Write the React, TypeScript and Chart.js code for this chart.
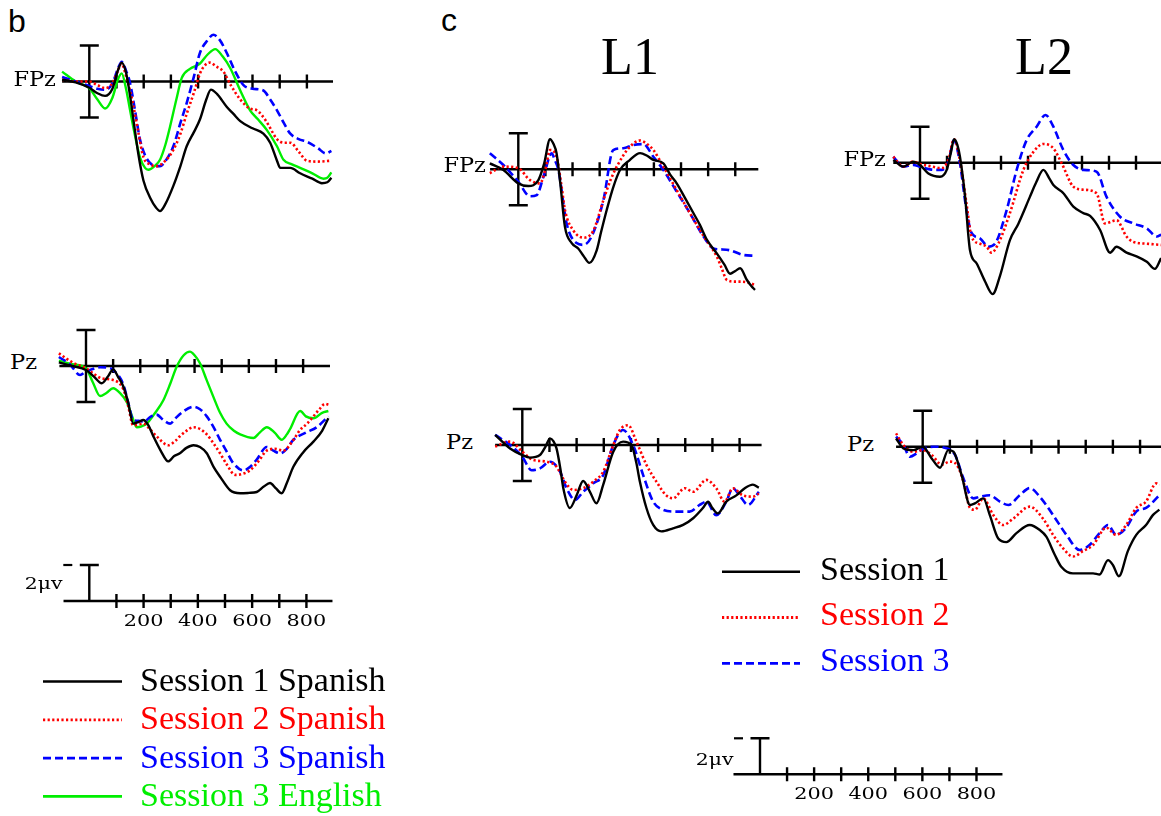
import React, { useEffect, useRef } from "react";
import { Chart, registerables } from "chart.js";
Chart.register(...registerables);

type Pt = [number, number];

// ---------------- data: [time ms, amplitude µV] (negative plotted up) ----------------
// Panel b, FPz
const bFpzS1: Pt[] = [[-100,-0.1],[-50,0.05],[0,0.35],[30,0.65],[58,0.8],[85,0.4],[105,-0.6],[119,-1.05],[135,-0.5],[150,0.8],[162,2.1],[180,4.0],[199,5.5],[225,6.5],[245,7.0],[260,7.2],[280,6.8],[309,5.8],[335,4.7],[358,3.6],[385,2.8],[407,2.1],[430,1.0],[447,0.45],[470,0.7],[505,1.4],[530,1.8],[555,2.2],[600,2.6],[640,2.9],[665,3.4],[690,4.4],[702,4.8],[739,4.8],[775,5.1],[820,5.4],[855,5.65],[875,5.6],[890,5.35]];
const bFpzS2: Pt[] = [[-100,-0.1],[-50,0.0],[0,0.0],[30,0.2],[58,0.37],[85,0.1],[105,-0.6],[119,-1.0],[135,-0.3],[160,1.2],[180,2.8],[199,4.2],[222,4.6],[248,4.7],[280,4.4],[309,3.8],[335,2.9],[358,1.8],[385,0.6],[407,-0.45],[425,-0.9],[444,-1.05],[465,-0.85],[493,-0.55],[520,0.2],[555,1.0],[590,1.5],[616,1.6],[650,2.2],[690,3.2],[715,3.4],[739,3.4],[770,3.9],[800,4.4],[840,4.45],[890,4.4]];
const bFpzS3: Pt[] = [[-100,-0.25],[-50,0.0],[0,0.25],[30,0.4],[58,0.46],[85,0.1],[105,-0.7],[119,-1.1],[135,-0.6],[150,0.1],[168,1.6],[186,3.2],[205,4.1],[229,4.6],[260,4.7],[285,4.3],[309,3.6],[335,2.3],[358,1.2],[385,-0.3],[407,-1.6],[435,-2.3],[456,-2.6],[480,-2.3],[505,-1.6],[535,-0.6],[567,0.2],[600,0.4],[640,0.5],[665,1.0],[690,1.6],[715,2.3],[739,2.9],[770,3.2],[800,3.35],[840,3.7],[870,4.0],[890,3.85]];
const bFpzEn: Pt[] = [[-100,-0.55],[-50,0.0],[0,0.37],[30,1.0],[58,1.5],[85,0.9],[105,-0.1],[119,-0.45],[135,0.4],[150,1.6],[168,3.0],[186,4.2],[205,4.8],[217,4.9],[240,4.7],[260,4.35],[280,3.5],[297,2.5],[320,1.0],[340,-0.2],[370,-0.7],[407,-1.0],[435,-1.5],[463,-1.8],[490,-1.4],[518,-0.75],[555,0.5],[591,1.6],[620,2.1],[653,2.7],[690,3.6],[714,4.35],[745,4.6],[775,4.8],[820,5.1],[861,5.4],[875,5.35],[890,5.05]];

// Panel b, Pz
const bPzS1: Pt[] = [[-100,-0.2],[-50,0.0],[0,0.22],[30,0.6],[58,0.96],[80,0.6],[100,0.19],[118,0.6],[138,1.15],[155,2.0],[174,3.2],[195,3.1],[211,3.0],[230,3.3],[248,3.9],[275,4.7],[303,5.3],[325,5.0],[346,4.85],[370,4.55],[396,4.4],[420,4.5],[445,4.85],[470,5.6],[494,6.15],[531,6.9],[568,7.07],[600,7.05],[629,7.0],[655,6.7],[678,6.5],[700,6.8],[721,7.07],[740,6.5],[764,5.6],[800,4.8],[838,4.2],[870,3.6],[893,2.9]];
const bPzS2: Pt[] = [[-100,-0.7],[-50,-0.2],[0,0.13],[30,0.45],[58,0.69],[100,0.78],[138,1.3],[155,2.2],[174,3.3],[195,3.25],[211,3.2],[235,3.5],[260,3.9],[303,4.4],[330,4.15],[346,3.9],[370,3.6],[396,3.4],[420,3.5],[445,3.8],[470,4.3],[494,4.85],[520,5.5],[549,6.05],[575,6.0],[604,5.8],[635,5.3],[666,4.7],[695,4.6],[727,4.7],[760,4.2],[789,3.55],[815,3.2],[838,2.8],[860,2.4],[881,2.1],[893,2.15]];
const bPzS3: Pt[] = [[-100,-0.5],[-60,-0.1],[-22,0.5],[0,0.3],[15,0.22],[52,0.07],[80,0.1],[100,0.22],[138,1.05],[155,2.0],[174,3.0],[195,3.05],[211,3.1],[240,2.8],[260,2.7],[285,3.0],[310,3.2],[330,2.9],[352,2.6],[396,2.26],[420,2.4],[445,2.8],[470,3.4],[494,4.1],[520,4.8],[543,5.4],[580,5.8],[605,5.6],[629,5.2],[666,4.5],[690,4.7],[715,4.85],[740,4.6],[764,4.1],[810,3.7],[850,3.4],[893,2.8]];
const bPzEn: Pt[] = [[-100,-0.3],[-50,-0.1],[0,0.13],[25,0.9],[52,1.67],[75,1.5],[100,1.24],[125,1.5],[150,2.0],[170,2.8],[187,3.4],[205,3.35],[224,3.2],[255,2.6],[285,1.9],[310,1.0],[334,0.04],[360,-0.6],[383,-0.8],[400,-0.6],[420,-0.15],[445,0.8],[469,1.7],[494,2.6],[518,3.2],[545,3.6],[568,3.8],[617,4.0],[640,3.7],[666,3.4],[695,3.7],[721,4.1],[740,3.8],[752,3.5],[789,2.5],[810,2.8],[838,2.9],[870,2.6],[893,2.5]];

// Panel c, L1 FPz
const l1FpzS1: Pt[] = [[-105,-0.33],[-55,0.04],[0,0.78],[37,0.93],[74,0.6],[95,-0.3],[117,-1.67],[130,-1.4],[141,-0.9],[155,0.8],[172,3.2],[197,4.1],[221,4.4],[240,4.8],[262,5.2],[289,4.5],[305,3.5],[326,2.26],[350,1.0],[375,0.04],[410,-0.5],[449,-0.9],[475,-0.75],[498,-0.52],[535,-0.33],[560,0.3],[584,0.78],[615,1.6],[646,2.44],[670,3.1],[695,3.9],[732,4.67],[760,5.3],[781,5.8],[800,5.65],[818,5.5],[843,6.15],[860,6.5],[873,6.7]];
const l1FpzS2: Pt[] = [[-105,0.22],[-55,-0.15],[0,-0.06],[43,0.6],[80,0.78],[100,0.0],[117,-1.07],[141,-0.7],[160,1.0],[172,2.26],[203,3.4],[240,3.8],[277,3.4],[314,1.7],[340,0.6],[363,-0.15],[412,-1.26],[449,-1.6],[475,-1.4],[498,-1.07],[535,-0.15],[584,1.15],[633,2.44],[683,3.7],[732,4.85],[750,5.5],[769,6.15],[800,6.24],[818,6.24],[850,6.3],[873,6.43]];
const l1FpzS3: Pt[] = [[-105,-0.89],[-55,-0.24],[0,0.69],[43,1.5],[68,1.43],[95,0.3],[123,-0.89],[135,-0.5],[148,0.04],[178,3.0],[215,4.1],[240,4.2],[270,3.74],[314,1.7],[350,-1.07],[387,-1.17],[424,-1.35],[461,-1.4],[498,-0.7],[535,0.04],[584,1.24],[633,2.44],[683,3.74],[720,4.4],[750,4.45],[781,4.5],[830,4.76],[873,4.8]];

// Panel c, L2 FPz
const l2FpzS1: Pt[] = [[-99,-0.15],[-62,0.22],[-25,-0.06],[0,0.13],[31,0.6],[74,0.78],[99,0.4],[115,-0.6],[126,-1.3],[138,-1.0],[148,-0.33],[167,1.9],[185,4.85],[210,5.6],[241,6.6],[269,7.3],[296,6.3],[333,4.3],[364,3.4],[407,1.9],[430,1.1],[457,0.4],[480,0.9],[494,1.24],[531,1.7],[568,2.44],[605,2.8],[630,2.96],[667,3.74],[704,5.0],[728,4.67],[765,5.0],[802,5.2],[840,5.5],[870,5.9],[893,5.3]];
const l2FpzS2: Pt[] = [[-99,-0.33],[-62,0.22],[-25,-0.06],[0,0.07],[37,0.19],[80,0.3],[105,-0.15],[126,-1.3],[150,0.04],[172,2.26],[191,4.1],[222,4.5],[247,4.67],[265,5.0],[290,4.5],[333,2.8],[383,0.4],[420,-0.6],[457,-1.04],[494,-0.8],[525,0.04],[568,1.33],[605,1.5],[654,1.7],[685,3.37],[728,3.2],[765,4.1],[790,4.4],[840,4.5],[893,4.57]];
const l2FpzS3: Pt[] = [[-99,-0.33],[-62,0.22],[-25,0.13],[0,0.22],[37,0.37],[80,0.4],[105,-0.06],[126,-1.26],[148,0.04],[172,2.63],[191,3.9],[222,4.2],[253,4.67],[278,4.5],[321,2.63],[358,0.4],[395,-1.26],[432,-2.0],[465,-2.65],[494,-2.0],[531,-0.7],[568,0.13],[605,0.4],[654,0.5],[691,1.9],[741,3.0],[790,3.37],[840,3.65],[877,4.1],[893,4.0]];

// Panel c, L1 Pz
const l1PzS1: Pt[] = [[-100,-0.56],[-45,0.19],[0,0.56],[28,0.7],[65,0.56],[85,0.1],[102,-0.37],[115,-0.2],[126,0.19],[140,1.3],[151,2.4],[175,3.5],[200,2.8],[224,2.0],[249,2.6],[273,3.24],[298,2.2],[335,0.37],[371,-0.19],[402,0.0],[420,1.0],[433,2.04],[457,3.5],[482,4.44],[512,4.8],[555,4.63],[592,4.44],[629,4.07],[665,3.5],[684,3.15],[700,3.5],[720,3.8],[751,3.15],[788,2.8],[819,2.4],[849,2.2],[871,2.37]];
const l1PzS2: Pt[] = [[-100,0.09],[-45,-0.19],[0,0.37],[40,0.83],[90,0.93],[126,1.2],[157,2.04],[188,2.5],[224,2.4],[261,2.04],[298,1.48],[335,0.0],[359,-0.83],[390,-1.1],[420,-0.19],[457,1.1],[494,2.04],[530,2.8],[555,2.96],[598,2.4],[629,2.6],[678,1.94],[714,2.4],[745,3.15],[775,2.4],[812,2.8],[849,2.87],[871,2.7]];
const l1PzS3: Pt[] = [[-100,-0.56],[-45,0.0],[0,0.65],[34,1.4],[65,1.3],[102,0.93],[139,1.48],[163,2.4],[194,3.05],[224,2.6],[261,2.13],[298,1.67],[335,0.0],[371,-0.83],[408,0.0],[445,1.67],[482,3.15],[518,3.6],[567,3.7],[616,3.7],[653,3.33],[678,3.15],[714,3.9],[751,3.15],[775,2.4],[800,2.8],[831,3.33],[871,2.6]];

// Panel c, L2 Pz
const l2PzS1: Pt[] = [[-98,-0.46],[-71,0.09],[-34,0.19],[0,0.0],[33,0.65],[64,1.17],[94,0.19],[113,0.28],[143,1.57],[174,3.24],[192,3.15],[223,2.87],[247,3.8],[278,5.1],[308,5.3],[345,4.8],[394,4.35],[431,4.63],[455,5.0],[486,6.0],[510,6.67],[553,7.04],[590,7.04],[627,7.04],[651,7.1],[682,6.3],[700,6.57],[722,7.2],[755,5.8],[786,4.9],[822,4.35],[847,3.8],[871,3.5]];
const l2PzS2: Pt[] = [[-98,-0.74],[-71,-0.09],[-34,0.28],[0,0.19],[33,0.46],[70,1.0],[100,0.83],[125,1.0],[150,1.94],[174,3.4],[192,3.5],[223,2.87],[260,3.8],[296,4.35],[333,4.0],[394,3.33],[443,4.0],[480,4.9],[517,5.65],[553,6.1],[590,5.8],[627,5.46],[676,4.5],[712,4.9],[749,4.35],[786,3.4],[822,3.05],[859,2.04],[871,2.13]];
const l2PzS3: Pt[] = [[-98,-0.56],[-71,-0.09],[-47,0.56],[-22,0.37],[0,0.13],[39,0.0],[88,0.09],[119,0.46],[150,1.76],[186,2.87],[210,2.78],[247,2.7],[284,3.05],[315,3.24],[357,2.7],[394,2.3],[431,2.78],[480,3.8],[529,4.9],[578,5.74],[614,5.46],[651,4.8],[682,4.35],[712,4.9],[749,4.5],[786,3.6],[822,3.4],[871,2.7]];

// ticks and text
const axisTicks = [100, 200, 300, 400, 500, 600, 700, 800];
const scaleLabels = [200, 400, 600, 800];
const legendB = ["Session 1 Spanish", "Session 2 Spanish", "Session 3 Spanish", "Session 3 English"];
const legendC = ["Session 1", "Session 2", "Session 3"];
const titlesC = ["L1", "L2"];

// ---------------- styles ----------------
const W = 1161;
const H = 816;
const PPU = 18; // px per µV
type StyleKey = "s1" | "s2" | "s3" | "en";
const STYLES: Record<StyleKey, { color: string; width: number; dash: number[] }> = {
  s1: { color: "#000000", width: 2.4, dash: [] },
  s2: { color: "#ff0000", width: 2.6, dash: [2.2, 2.4] },
  s3: { color: "#0000ff", width: 2.6, dash: [8, 4] },
  en: { color: "#00ee00", width: 2.4, dash: [] },
};
const legendBKeys: StyleKey[] = ["s1", "s2", "s3", "en"];
const legendCKeys: StyleKey[] = ["s1", "s2", "s3"];

type PanelCfg = {
  id: string;
  x0: number;
  y0: number;
  ppm: number;
  from: number;
  to: number;
  scale?: boolean;
  series: [StyleKey, Pt[]][];
};

const panels: PanelCfg[] = [
  { id: "bF", x0: 89.3, y0: 81.5, ppm: 0.272, from: -100, to: 896, series: [["s1", bFpzS1], ["s2", bFpzS2], ["s3", bFpzS3], ["en", bFpzEn]] },
  { id: "bP", x0: 86, y0: 366, ppm: 0.2714, from: -98, to: 899, series: [["s1", bPzS1], ["s2", bPzS2], ["s3", bPzS3], ["en", bPzEn]] },
  { id: "l1F", x0: 518.3, y0: 169.3, ppm: 0.2712, from: -104, to: 885, series: [["s1", l1FpzS1], ["s2", l1FpzS2], ["s3", l1FpzS3]] },
  { id: "l1P", x0: 522.3, y0: 445, ppm: 0.2716, from: -100, to: 881, series: [["s1", l1PzS1], ["s2", l1PzS2], ["s3", l1PzS3]] },
  { id: "l2F", x0: 920, y0: 162.7, ppm: 0.27, from: -99, to: 960, series: [["s1", l2FpzS1], ["s2", l2FpzS2], ["s3", l2FpzS3]] },
  { id: "l2P", x0: 922.7, y0: 446.7, ppm: 0.2717, from: -98, to: 960, series: [["s1", l2PzS1], ["s2", l2PzS2], ["s3", l2PzS3]] },
  { id: "bS", x0: 89.3, y0: 601, ppm: 0.2714, from: -95, to: 896, scale: true, series: [] },
  { id: "cS", x0: 760, y0: 774.3, ppm: 0.2706, from: -98, to: 896, scale: true, series: [] },
];

const erpAxes = {
  id: "erpAxes",
  beforeDatasetsDraw(chart: any, _args: any, o: any) {
    const { ctx } = chart;
    const x = chart.scales.x;
    const y = chart.scales.y;
    const yz = y.getPixelForValue(0);
    const xz = x.getPixelForValue(0);
    ctx.save();
    ctx.strokeStyle = "#000";
    ctx.fillStyle = "#000";
    ctx.lineWidth = 2.4;
    ctx.lineCap = "butt";
    ctx.beginPath();
    ctx.moveTo(x.getPixelForValue(o.from), yz);
    ctx.lineTo(x.getPixelForValue(o.to), yz);
    for (const t of axisTicks) {
      const px = x.getPixelForValue(t);
      ctx.moveTo(px, yz - 7);
      ctx.lineTo(px, yz + 7);
    }
    const yt = y.getPixelForValue(-2);
    const yb = y.getPixelForValue(o.scale ? 0 : 2);
    ctx.moveTo(xz, yt);
    ctx.lineTo(xz, yb);
    ctx.moveTo(xz - 9.5, yt);
    ctx.lineTo(xz + 9.5, yt);
    if (!o.scale) {
      ctx.moveTo(xz - 9.5, yb);
      ctx.lineTo(xz + 9.5, yb);
    }
    ctx.stroke();
    if (o.scale) {
      ctx.lineWidth = 2.2;
      ctx.beginPath();
      ctx.moveTo(xz - 26, yt);
      ctx.lineTo(xz - 17, yt);
      ctx.stroke();
      ctx.font = '16px "DejaVu Serif"';
      ctx.textAlign = "center";
      ctx.textBaseline = "alphabetic";
      for (const t of scaleLabels) {
        const px = x.getPixelForValue(t);
        ctx.save();
        ctx.translate(px, yz + 25);
        ctx.scale(1.3, 1);
        ctx.fillText(String(t), 0, 0);
        ctx.restore();
      }
    }
    ctx.restore();
  },
};

function ErpPanel({ cfg }: { cfg: PanelCfg }) {
  const ref = useRef<HTMLCanvasElement>(null);
  const tMin0 = -140;
  const tMax0 = 960;
  const vMin0 = cfg.scale ? -3 : -3.6;
  const vMax0 = cfg.scale ? 2.2 : 8.6;
  const left = Math.round(cfg.x0 + tMin0 * cfg.ppm);
  const width = Math.round((tMax0 - tMin0) * cfg.ppm);
  const top = Math.round(cfg.y0 + vMin0 * PPU);
  const height = Math.round((vMax0 - vMin0) * PPU);
  const tMin = (left - cfg.x0) / cfg.ppm;
  const tMax = tMin + width / cfg.ppm;
  const vMin = (top - cfg.y0) / PPU;
  const vMax = vMin + height / PPU;

  useEffect(() => {
    if (!ref.current) return;
    const chart = new Chart(ref.current, {
      type: "line",
      data: {
        datasets: cfg.series.map(([key, pts]) => ({
          label: key,
          data: pts.map(([t, v]) => ({ x: t, y: v })),
          borderColor: STYLES[key].color,
          borderWidth: STYLES[key].width,
          borderDash: STYLES[key].dash,
          pointRadius: 0,
          fill: false,
          cubicInterpolationMode: "monotone" as const,
        })),
      },
      options: {
        responsive: false,
        animation: false,
        events: [],
        layout: { padding: 0 },
        plugins: {
          legend: { display: false },
          tooltip: { enabled: false },
          erpAxes: { from: cfg.from, to: cfg.to, scale: !!cfg.scale },
        } as any,
        scales: {
          x: { type: "linear", min: tMin, max: tMax, display: false },
          y: { type: "linear", min: vMin, max: vMax, reverse: true, display: false },
        },
      },
      plugins: [erpAxes],
    });
    return () => chart.destroy();
  }, []);

  return (
    <canvas
      ref={ref}
      width={width}
      height={height}
      style={{ position: "absolute", left, top, width, height }}
    />
  );
}

function Label(props: {
  text: string;
  x: number;
  base: number;
  size: number;
  font: string;
  color?: string;
  align?: "left" | "right" | "center";
  sx?: number;
}) {
  const { text, x, base, size, font, color = "#000", align = "left", sx = 1 } = props;
  const style: React.CSSProperties = {
    position: "absolute",
    top: base - 0.84 * size,
    fontSize: size,
    lineHeight: `${size}px`,
    fontFamily: font,
    color,
    whiteSpace: "nowrap",
  };
  if (align === "left") {
    style.left = x;
    style.transformOrigin = "left center";
    style.transform = `scaleX(${sx})`;
  } else if (align === "right") {
    style.right = W - x;
    style.transformOrigin = "right center";
    style.transform = `scaleX(${sx})`;
  } else {
    style.left = x;
    style.transform = `translateX(-50%)`;
  }
  return <div style={style}>{text}</div>;
}

const SERIF = '"Liberation Serif", "Times New Roman", serif';
const DSERIF = '"DejaVu Serif", serif';
const SANS = '"Liberation Sans", Arial, sans-serif';

function LegendLine({ x1, x2, y, k }: { x1: number; x2: number; y: number; k: StyleKey }) {
  const s = STYLES[k];
  return (
    <line
      x1={x1}
      x2={x2}
      y1={y}
      y2={y}
      stroke={s.color}
      strokeWidth={s.width + 0.2}
      strokeDasharray={s.dash.length ? s.dash.join(" ") : undefined}
    />
  );
}

export default function App() {
  useEffect(() => {
    document.body.style.margin = "0";
    document.body.style.overflow = "hidden";
  }, []);

  const legBY = legendB.map((_, i) => 681.5 + i * 38.3);
  const legCY = legendC.map((_, i) => 571.7 + i * 45.8);

  return (
    <div
      style={{
        position: "absolute",
        left: 0,
        top: 0,
        width: W,
        height: H,
        overflow: "hidden",
        background: "#ffffff",
      }}
    >
      {panels.map((p) => (
        <ErpPanel key={p.id} cfg={p} />
      ))}

      <Label text="b" x={8} base={32} size={32} font={SANS} />
      <Label text="c" x={441} base={31} size={32} font={SANS} />
      <Label text={titlesC[0]} x={630} base={75} size={52} font={SERIF} align="center" />
      <Label text={titlesC[1]} x={1044} base={75} size={52} font={SERIF} align="center" />

      <Label text="FPz" x={56} base={86} size={20} font={DSERIF} align="right" sx={1.12} />
      <Label text="Pz" x={37} base={369} size={20} font={DSERIF} align="right" sx={1.12} />
      <Label text="FPz" x={486} base={172} size={20} font={DSERIF} align="right" sx={1.12} />
      <Label text="Pz" x={473} base={449} size={20} font={DSERIF} align="right" sx={1.12} />
      <Label text="FPz" x={886} base={166} size={20} font={DSERIF} align="right" sx={1.12} />
      <Label text="Pz" x={874} base={451} size={20} font={DSERIF} align="right" sx={1.12} />

      <Label text="2μv" x={62} base={589} size={17} font={DSERIF} align="right" sx={1.2} />
      <Label text="2μv" x={733} base={765} size={17} font={DSERIF} align="right" sx={1.2} />

      <svg
        width={W}
        height={H}
        style={{ position: "absolute", left: 0, top: 0, pointerEvents: "none" }}
      >
        {legendBKeys.map((k, i) => (
          <LegendLine key={"lb" + i} x1={43} x2={122} y={legBY[i]} k={k} />
        ))}
        {legendCKeys.map((k, i) => (
          <LegendLine key={"lc" + i} x1={722} x2={800} y={legCY[i]} k={k} />
        ))}
      </svg>

      {legendB.map((t, i) => (
        <Label
          key={"tb" + i}
          text={t}
          x={140}
          base={legBY[i] + 10}
          size={34}
          font={SERIF}
          color={STYLES[legendBKeys[i]].color}
        />
      ))}
      {legendC.map((t, i) => (
        <Label
          key={"tc" + i}
          text={t}
          x={820}
          base={legCY[i] + 8.5}
          size={34}
          font={SERIF}
          color={STYLES[legendCKeys[i]].color}
        />
      ))}
    </div>
  );
}
